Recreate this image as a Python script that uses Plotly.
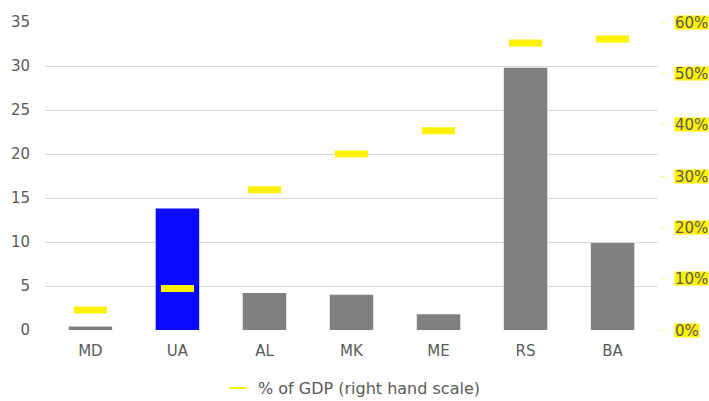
import plotly.graph_objects as go

countries = ["MD", "UA", "AL", "MK", "ME", "RS", "BA"]
amounts = [0.4, 13.8, 4.2, 4.0, 1.8, 29.8, 9.9]
gdp_share = [0.039, 0.081, 0.273, 0.343, 0.388, 0.559, 0.567]
bar_colors = ["#808080", "#0A0AFF", "#808080", "#808080", "#808080", "#808080", "#808080"]

left_ticks = [0, 5, 10, 15, 20, 25, 30, 35]
right_ticks = [0, 0.1, 0.2, 0.3, 0.4, 0.5, 0.6]
right_labels = ["0%", "10%", "20%", "30%", "40%", "50%", "60%"]

FONT = "DejaVu Sans, sans-serif"
TEXT = "#595959"
YELLOW = "#FFF200"

fig = go.Figure()
fig.add_trace(go.Bar(
    x=countries, y=amounts, marker=dict(color=bar_colors, line=dict(width=0)),
    width=0.5, showlegend=False, hoverinfo="skip",
))
fig.add_trace(go.Scatter(
    x=countries, y=gdp_share, yaxis="y2", mode="markers",
    name="% of GDP (right hand scale)",
    marker=dict(symbol="line-ew", size=23.6, color=YELLOW,
                line=dict(color=YELLOW, width=7)),
))

# yellow-highlighted labels for the right-hand scale
for v, lab in zip(right_ticks, right_labels):
    fig.add_annotation(
        x=1, xref="paper", xshift=16, xanchor="left",
        y=v, yref="y2", yanchor="middle",
        text=lab, showarrow=False, bgcolor=YELLOW,
        font=dict(family=FONT, size=15, color=TEXT),
        height=13, borderpad=0, align="left",
    )

fig.update_layout(
    width=709, height=401,
    margin=dict(l=45, r=51, t=22, b=71, autoexpand=False),
    paper_bgcolor="white", plot_bgcolor="white",
    font=dict(family=FONT, size=15, color=TEXT),
    bargap=0.5,
    xaxis=dict(showgrid=False, showline=False, zeroline=False, ticks="",
               ticklabelstandoff=10, tickfont=dict(size=15, color=TEXT)),
    yaxis=dict(range=[0, 35], tickvals=left_ticks, showgrid=True,
               gridcolor="#D9D9D9", gridwidth=1, zeroline=False, showline=False,
               ticks="", ticklabelstandoff=14, tickfont=dict(size=15, color=TEXT)),
    yaxis2=dict(range=[0, 0.6], tickvals=right_ticks, overlaying="y", side="right",
                showgrid=False, zeroline=False, showline=False, showticklabels=False,
                ticks="outside", ticklen=7, tickwidth=1, tickcolor="#FFF7A0"),
    legend=dict(orientation="h", x=0.5, xanchor="center", yref="container",
                y=0.032, yanchor="middle",
                font=dict(family=FONT, size=16, color=TEXT), itemsizing="constant"),
)

fig.write_html("out.html")
